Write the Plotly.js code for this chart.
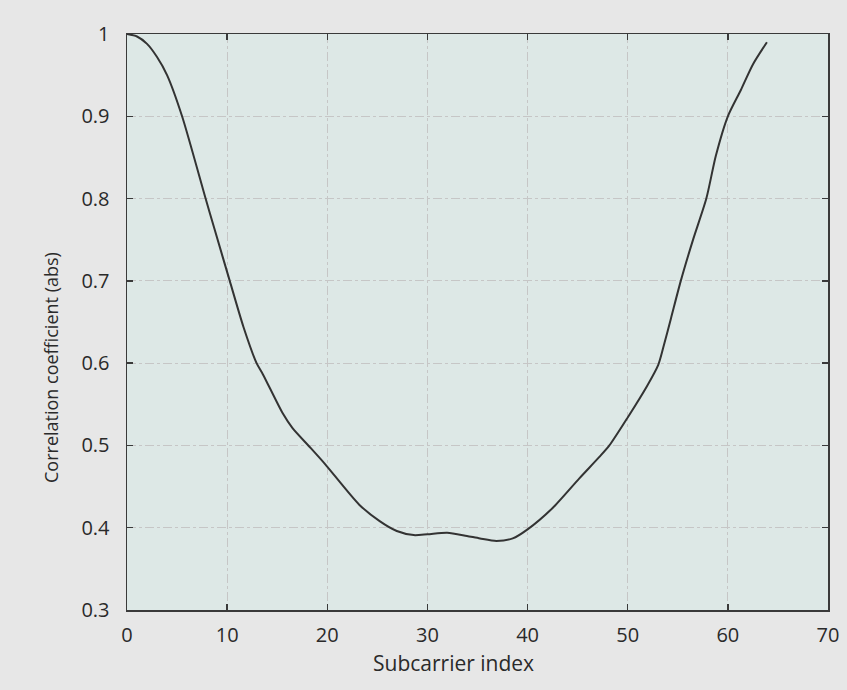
<!DOCTYPE html>
<html>
<head>
<meta charset="utf-8">
<script src="https://cdn.plot.ly/plotly-3.0.1.min.js"></script>
<style>
  html, body { margin: 0; padding: 0; background: #e7e7e7; }
  #chart { width: 847px; height: 690px; }
</style>
</head>
<body>
<div id="chart"></div>
<script>
// Subcarrier index (x) and absolute correlation coefficient (y)
const subcarrier = [0, 1, 2, 3, 4.0, 5.5, 7.85, 8.76, 10.26, 11.63, 12.94, 13.59, 15.55, 16.53, 18.33, 19.8, 23.19, 25.23, 26.94, 28.63, 30, 31.97, 33.94, 35.25, 36.89, 38.52, 40, 42.5, 45.17, 47.17, 48.17, 50, 51.92, 53.05, 53.53, 54.33, 55.3, 56.55, 57.85, 58.8, 60, 61.3, 62.5, 63.9];
const correlation = [1.0, 0.997, 0.988, 0.972, 0.950, 0.900, 0.800, 0.762, 0.700, 0.644, 0.600, 0.586, 0.539, 0.521, 0.497, 0.477, 0.428, 0.408, 0.396, 0.391, 0.392, 0.394, 0.390, 0.387, 0.384, 0.387, 0.398, 0.424, 0.460, 0.486, 0.500, 0.534, 0.572, 0.598, 0.618, 0.655, 0.700, 0.751, 0.800, 0.852, 0.900, 0.932, 0.963, 0.990];
const xTicks = [0, 10, 20, 30, 40, 50, 60, 70];
const yTicks = [0.3, 0.4, 0.5, 0.6, 0.7, 0.8, 0.9, 1];
const yTickText = ['0.3', '0.4', '0.5', '0.6', '0.7', '0.8', '0.9', '1'];
const xTitle = 'Subcarrier index';
const yTitle = 'Correlation coefficient (abs)';

const fontFam = 'Open Sans, Noto Sans, sans-serif';
const textColor = '#2a2a2a';

const trace = {
  x: subcarrier,
  y: correlation,
  type: 'scatter',
  mode: 'lines',
  line: { color: '#333333', width: 2, shape: 'spline', smoothing: 0.7 },
  hoverinfo: 'x+y'
};

const axisCommon = {
  showline: true,
  linecolor: '#3a3a3a',
  linewidth: 1.5,
  mirror: 'ticks',
  ticks: 'inside',
  ticklen: 6,
  tickwidth: 1.5,
  tickcolor: '#3a3a3a',
  showgrid: true,
  gridcolor: '#c6c6c6',
  gridwidth: 1,
  griddash: 'dashdot',
  zeroline: false,
  tickfont: { family: fontFam, size: 20, color: textColor }
};

const layout = {
  width: 847,
  height: 690,
  paper_bgcolor: '#e7e7e7',
  plot_bgcolor: '#dde8e6',
  margin: { l: 127, r: 19, t: 34, b: 80 },
  showlegend: false,
  xaxis: Object.assign({}, axisCommon, {
    range: [0, 70],
    tickvals: xTicks,
    ticktext: xTicks.map(String),
    ticklabelstandoff: 6
  }),
  yaxis: Object.assign({}, axisCommon, {
    range: [0.3, 1],
    tickvals: yTicks,
    ticktext: yTickText,
    ticklabelstandoff: 12
  }),
  annotations: [
    {
      text: xTitle,
      xref: 'paper', yref: 'paper',
      x: (453 - 127) / 701, y: (610 - 663) / 576,
      xanchor: 'center', yanchor: 'middle',
      showarrow: false,
      font: { family: fontFam, size: 21, color: textColor }
    },
    {
      text: yTitle,
      textangle: -90,
      xref: 'paper', yref: 'paper',
      x: (51 - 127) / 701, y: (610 - 368) / 576,
      xanchor: 'center', yanchor: 'middle',
      showarrow: false,
      font: { family: fontFam, size: 18, color: textColor }
    }
  ]
};

Plotly.newPlot('chart', [trace], layout, { displayModeBar: false, staticPlot: true });
</script>
</body>
</html>
